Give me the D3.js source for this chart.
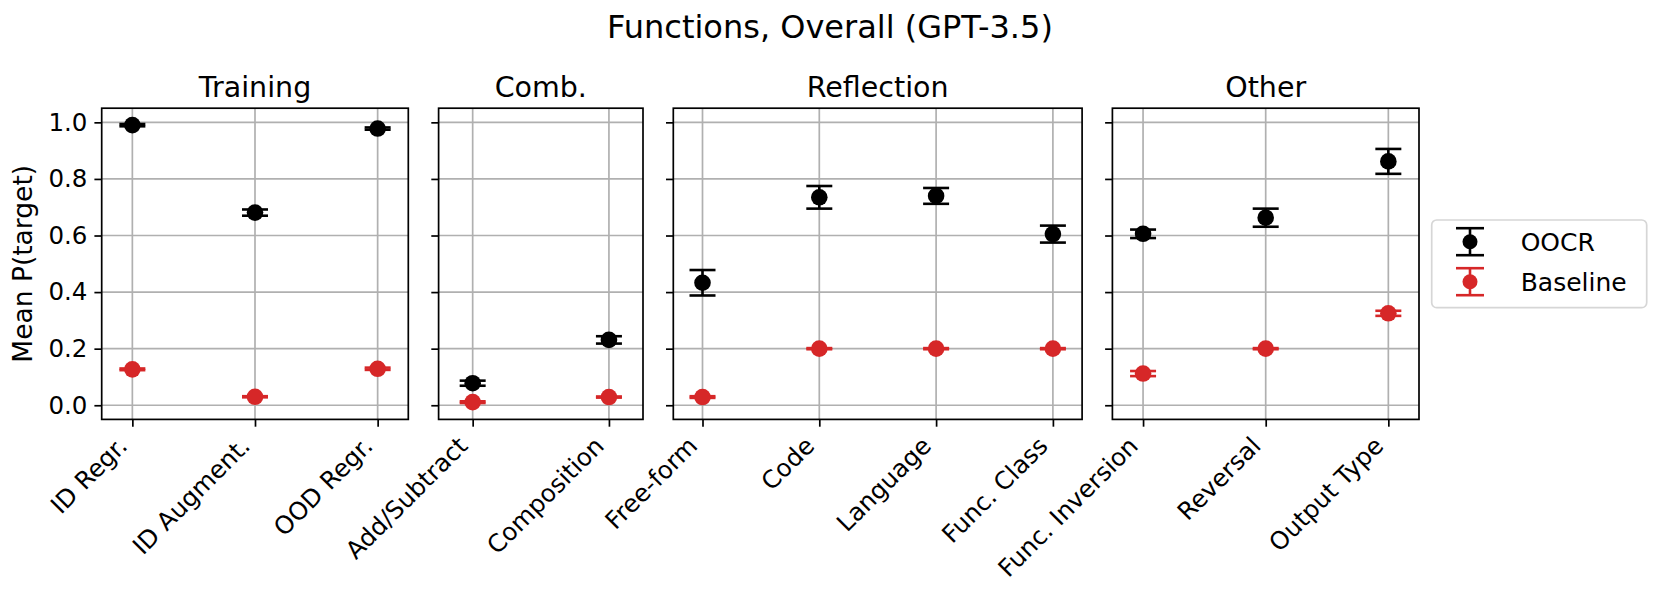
<!DOCTYPE html>
<html>
<head>
<meta charset="utf-8">
<script src="https://cdn.jsdelivr.net/npm/d3@7"></script>
<style>
  body { margin: 0; background: #fff; }
  text { font-family: "DejaVu Sans", sans-serif; fill: #000; }
</style>
</head>
<body>
<svg id="graph"></svg>
<script>
// panel titles and the categories inside each panel
const groups = ["Training", "Comb.", "Reflection", "Other"]
const categories = [
    ["ID Regr.", "ID Augment.", "OOD Regr."],
    ["Add/Subtract", "Composition"],
    ["Free-form", "Code", "Language", "Func. Class"],
    ["Func. Inversion", "Reversal", "Output Type"]
]
// OOCR series, mean and half error bar
const oocrMean = [[0.990, 0.681, 0.978], [0.078, 0.231], [0.433, 0.735, 0.740, 0.605], [0.606, 0.663, 0.862]]
const oocrErr = [[0.004, 0.011, 0.004], [0.009, 0.013], [0.045, 0.040, 0.028, 0.030], [0.015, 0.032, 0.044]]
// Baseline series
const baseMean = [[0.127, 0.030, 0.129], [0.011, 0.029], [0.029, 0.200, 0.200, 0.200], [0.112, 0.200, 0.325]]
const baseErr = [[0.003, 0.002, 0.004], [0.003, 0.002], [0.003, 0.002, 0.002, 0.002], [0.009, 0.002, 0.009]]
const yTicks = [0, 0.2, 0.4, 0.6, 0.8, 1.0]
const seriesNames = ["OOCR", "Baseline"]
const seriesColors = ["#000000", "#d62728"]

// set the dimensions of the figure
const W = 1661, H = 601
const plotTop = 108.2, plotBottom = 419.4
const plotLeft = 101.7, unitW = 102.2, gap = 30.3
const tickLen = 7.3
const gridColor = "#b0b0b0"

const svg = d3.select("#graph")
    .attr("width", W)
    .attr("height", H)

const y = d3.scaleLinear()
    .domain([-0.05, 1.05])
    .range([plotBottom, plotTop])

// main title
svg.append("text")
    .attr("x", 830)
    .attr("y", 38)
    .attr("text-anchor", "middle")
    .style("font-size", "32px")
    .text("Functions, Overall (GPT-3.5)")

// y label
svg.append("text")
    .attr("transform", `translate(32,${(plotTop + plotBottom) / 2}) rotate(-90)`)
    .attr("text-anchor", "middle")
    .style("font-size", "26.5px")
    .text("Mean P(target)")

let left = plotLeft
groups.forEach((g, gi) => {
    let cats = categories[gi]
    let n = cats.length
    let pw = n * unitW
    let x = d3.scaleLinear()
        .domain([-0.25, n - 0.75])
        .range([left, left + pw])
    let panel = svg.append("g")

    // grid lines go under the markers
    panel.selectAll(".hgrid")
        .data(yTicks)
        .join("line")
        .attr("x1", left).attr("x2", left + pw)
        .attr("y1", d => y(d)).attr("y2", d => y(d))
        .attr("stroke", gridColor)
        .attr("stroke-width", 1.7)
    panel.selectAll(".vgrid")
        .data(cats)
        .join("line")
        .attr("x1", (d, i) => x(i)).attr("x2", (d, i) => x(i))
        .attr("y1", plotTop).attr("y2", plotBottom)
        .attr("stroke", gridColor)
        .attr("stroke-width", 1.7)

    // y axis: ticks everywhere, labels only on the first panel
    let yAxis = d3.axisLeft(y)
        .tickValues(yTicks)
        .tickSize(tickLen)
        .tickPadding(7)
        .tickFormat(gi == 0 ? d3.format(".1f") : "")
    panel.append("g")
        .attr("transform", `translate(${left},0)`)
        .call(yAxis)
        .call(a => a.select(".domain").remove())
        .call(a => a.selectAll("line").attr("stroke-width", 1.7))
        .call(a => a.selectAll("text").style("font-size", "24.5px").attr("font-family", null))

    // x axis with rotated labels
    let xAxis = d3.axisBottom(x)
        .tickValues(d3.range(n))
        .tickSize(tickLen)
        .tickFormat(i => cats[i])
    panel.append("g")
        .attr("transform", `translate(0,${plotBottom})`)
        .call(xAxis)
        .call(a => a.select(".domain").remove())
        .call(a => a.selectAll("line").attr("stroke-width", 1.7))
        .call(a => a.selectAll("text")
            .attr("font-family", null)
            .style("font-size", "24.5px")
            .attr("text-anchor", "end")
            .attr("dy", null)
            .attr("y", null)
            .attr("transform", "translate(-4,28) rotate(-45)"))

    // error bars and points, OOCR first then Baseline on top
    let means = [oocrMean[gi], baseMean[gi]]
    let errs = [oocrErr[gi], baseErr[gi]]
    means.forEach((m, si) => {
        let col = seriesColors[si]
        let pts = m.map((v, i) => ({ i: i, v: v, e: errs[si][i] }))
        let grp = panel.append("g")
        grp.selectAll(".ebar")
            .data(pts)
            .join("line")
            .attr("x1", d => x(d.i)).attr("x2", d => x(d.i))
            .attr("y1", d => y(d.v - d.e)).attr("y2", d => y(d.v + d.e))
            .attr("stroke", col).attr("stroke-width", 2.6)
        grp.selectAll(".cap")
            .data(pts.flatMap(d => [{ i: d.i, v: d.v - d.e }, { i: d.i, v: d.v + d.e }]))
            .join("line")
            .attr("x1", d => x(d.i) - 13).attr("x2", d => x(d.i) + 13)
            .attr("y1", d => y(d.v)).attr("y2", d => y(d.v))
            .attr("stroke", col).attr("stroke-width", 2.6)
        grp.selectAll(".dot")
            .data(pts)
            .join("circle")
            .attr("cx", d => x(d.i))
            .attr("cy", d => y(d.v))
            .attr("r", 8.3)
            .attr("fill", col)
    })

    // frame
    panel.append("rect")
        .attr("x", left).attr("y", plotTop)
        .attr("width", pw).attr("height", plotBottom - plotTop)
        .attr("fill", "none")
        .attr("stroke", "#000")
        .attr("stroke-width", 1.7)

    // panel title
    panel.append("text")
        .attr("x", left + pw / 2)
        .attr("y", 96.7)
        .attr("text-anchor", "middle")
        .style("font-size", "28.5px")
        .text(g)

    left += pw + gap
})

// legend
let legend = svg.append("g")
legend.append("rect")
    .attr("x", 1431.7).attr("y", 220)
    .attr("width", 215).attr("height", 87.7)
    .attr("rx", 5)
    .attr("fill", "#fff")
    .attr("stroke", "#d6d6d6")
    .attr("stroke-width", 1.7)
seriesNames.forEach((s, i) => {
    let cy = 241.7 + i * 40
    let col = seriesColors[i]
    let hx = 1470
    legend.append("line")
        .attr("x1", hx).attr("x2", hx)
        .attr("y1", cy - 13.5).attr("y2", cy + 13.5)
        .attr("stroke", col).attr("stroke-width", 2.6)
    ;[-13.5, 13.5].forEach(o => {
        legend.append("line")
            .attr("x1", hx - 14).attr("x2", hx + 14)
            .attr("y1", cy + o).attr("y2", cy + o)
            .attr("stroke", col).attr("stroke-width", 2.6)
    })
    legend.append("circle")
        .attr("cx", hx).attr("cy", cy).attr("r", 7.5)
        .attr("fill", col)
    legend.append("text")
        .attr("x", 1520.7)
        .attr("y", cy + 9.5)
        .style("font-size", "25px")
        .text(s)
})
</script>
</body>
</html>
